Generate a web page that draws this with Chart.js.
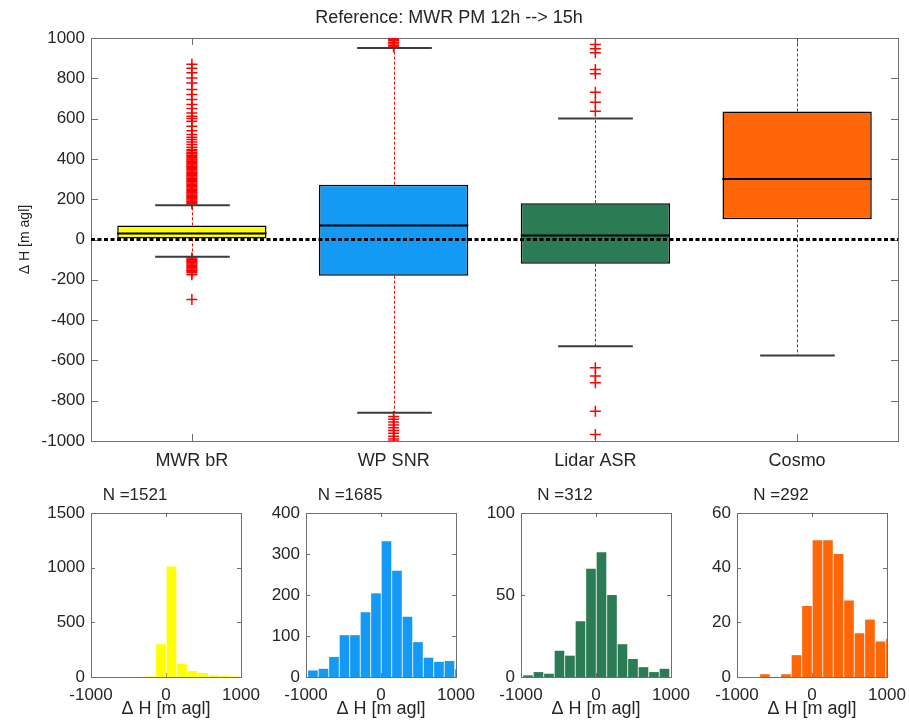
<!DOCTYPE html>
<html><head><meta charset="utf-8">
<script src="https://cdn.jsdelivr.net/npm/chart.js@4.4.1/dist/chart.umd.min.js"></script>
<style>
html,body{margin:0;padding:0;background:#fff;}
#wrap{position:relative;width:909px;height:725px;overflow:hidden;background:#fff;}
canvas{position:absolute;}
</style></head><body>
<div id="wrap">
<canvas id="main" width="909" height="480" style="left:0;top:0"></canvas>
<canvas id="h0" width="234" height="245" style="left:29px;top:480px"></canvas>
<canvas id="h1" width="234" height="245" style="left:244px;top:480px"></canvas>
<canvas id="h2" width="234" height="245" style="left:459px;top:480px"></canvas>
<canvas id="h3" width="234" height="245" style="left:675px;top:480px"></canvas>
</div>
<script>
// ---------- data: box plot ----------
const categories = ['MWR bR', 'WP SNR', 'Lidar ASR', 'Cosmo'];
const boxQ1 = [5, -180, -120, 100];
const boxMedian = [30, 70, 20, 300];
const boxQ3 = [70, 272, 180, 635];
const whiskerLow = [-86, -860, -530, -576];
const whiskerHigh = [170, 950, 600, 1100];
const outliersMWR = [178,184,190,196,202,208,214,220,226,232,238,244,250,256,262,268,274,280,286,292,298,304,310,316,322,328,334,340,346,352,358,364,370,376,382,388,394,400,406,412,418,425,432,440,447,458,471,484,496,508,521,540,562,587,600,612,628,650,670,695,720,744,777,802,827,850,870,
  -92,-98,-104,-110,-116,-122,-128,-134,-140,-146,-152,-158,-165,-175,-298];
const outliersWP = [955,962,970,978,986,994,1000,-878,-892,-906,-920,-934,-948,-962,-976,-990,-1000];
const outliersLidar = [968,947,927,844,822,731,681,637,-637,-678,-711,-852,-968];
const outliersCosmo = [];
const mainYTicks = [-1000,-800,-600,-400,-200,0,200,400,600,800,1000];
const mainTitle = 'Reference: MWR PM 12h --> 15h';
const axisLabel = 'Δ H [m agl]';

// ---------- data: histograms ----------
const binCenters = [-1047,-907,-767,-627,-487,-347,-207,-67,73,213,353,493,633,773,913,1053];
const countsMWR   = [0,0,0,0,0,1,5,300,1010,122,55,37,15,9,5,0];
const countsWP    = [0,16,20,49,102,102,158,204,331,259,147,85,47,37,39,19];
const countsLidar = [0,1,3,2,16,13,34,66,76,50,20,11,6,3,5,0];
const countsCosmo = [0,0,0,1,0,1,8,26,50,50,45,28,16,21,13,14];
const histN = [1521, 1685, 312, 292];
const histXTicks = [-1000, 0, 1000];
const histYTicksMWR = [0, 500, 1000, 1500];
const histYTicksWP = [0, 100, 200, 300, 400];
const histYTicksLidar = [0, 50, 100];
const histYTicksCosmo = [0, 20, 40, 60];

// ---------- styles ----------
const FONT = '"Liberation Sans", Arial, sans-serif';
const TXT = '#262626';
const FRAME = '#707070';
const boxColors = ['#ffff00', '#1499f5', '#2b7b55', '#ff6608'];

function framePlugin(tickLen) {
  return {
    id: 'frame',
    beforeDatasetsDraw(chart) {
      const {ctx, chartArea: a, scales} = chart;
      ctx.save();
      ctx.strokeStyle = FRAME;
      ctx.lineWidth = 1;
      ctx.strokeRect(Math.round(a.left) + 0.5, Math.round(a.top) + 0.5, Math.round(a.right - a.left), Math.round(a.bottom - a.top));
      ctx.beginPath();
      const xs = scales.x, ys = scales.y;
      xs.ticks.forEach((t, i) => {
        const px = Math.round(xs.getPixelForTick(i)) + 0.5;
        ctx.moveTo(px, a.bottom); ctx.lineTo(px, a.bottom - tickLen);
        ctx.moveTo(px, a.top); ctx.lineTo(px, a.top + tickLen);
      });
      ys.ticks.forEach((t, i) => {
        const py = Math.round(ys.getPixelForTick(i)) + 0.5;
        ctx.moveTo(a.left, py); ctx.lineTo(a.left + tickLen, py);
        ctx.moveTo(a.right, py); ctx.lineTo(a.right - tickLen, py);
      });
      ctx.stroke();
      ctx.restore();
    }
  };
}

const boxPlugin = {
  id: 'boxparts',
  afterDatasetsDraw(chart) {
    const {ctx, chartArea: a} = chart;
    const ys = chart.scales.y;
    const meta = chart.getDatasetMeta(0);
    ctx.save();
    ctx.beginPath();
    ctx.rect(a.left, a.top, a.right - a.left, a.bottom - a.top);
    ctx.clip();
    meta.data.forEach((bar, i) => {
      const cx = Math.round(bar.x) + 0.5;
      const hw = bar.width / 2;
      const capHw = bar.width / 4;
      // whiskers
      ctx.strokeStyle = '#ff0000';
      ctx.lineWidth = 1;
      ctx.setLineDash([3, 2]);
      ctx.beginPath();
      ctx.moveTo(cx, ys.getPixelForValue(boxQ3[i])); ctx.lineTo(cx, ys.getPixelForValue(whiskerHigh[i]));
      ctx.moveTo(cx, ys.getPixelForValue(boxQ1[i])); ctx.lineTo(cx, ys.getPixelForValue(whiskerLow[i]));
      ctx.stroke();
      ctx.setLineDash([]);
      // caps
      ctx.strokeStyle = '#3c3c3c';
      ctx.lineWidth = 2;
      ctx.beginPath();
      [whiskerHigh[i], whiskerLow[i]].forEach(v => {
        const py = ys.getPixelForValue(v);
        ctx.moveTo(cx - capHw, py); ctx.lineTo(cx + capHw, py);
      });
      ctx.stroke();
      // median
      ctx.strokeStyle = '#000';
      ctx.lineWidth = 2;
      ctx.beginPath();
      const my = ys.getPixelForValue(boxMedian[i]);
      ctx.moveTo(bar.x - hw, my); ctx.lineTo(bar.x + hw, my);
      ctx.stroke();
    });
    // zero reference line
    const zy = ys.getPixelForValue(0);
    ctx.strokeStyle = '#000';
    ctx.lineWidth = 3;
    ctx.setLineDash([4, 2.5]);
    ctx.beginPath();
    ctx.moveTo(a.left, zy); ctx.lineTo(a.right, zy);
    ctx.stroke();
    ctx.restore();
  }
};

const outlierLists = [outliersMWR, outliersWP, outliersLidar, outliersCosmo];
const outlierPoints = [];
outlierLists.forEach((list, i) => list.forEach(v => outlierPoints.push({x: categories[i], y: v})));

new Chart(document.getElementById('main'), {
  type: 'bar',
  data: {
    labels: categories,
    datasets: [
      {
        type: 'bar',
        data: categories.map((c, i) => [boxQ1[i], boxQ3[i]]),
        backgroundColor: boxColors,
        borderColor: '#000',
        borderWidth: 1.5,
        borderSkipped: false,
        barPercentage: 0.74,
        categoryPercentage: 1
      },
      {
        type: 'scatter',
        data: outlierPoints,
        pointStyle: 'cross',
        pointRadius: 5.5,
        borderColor: '#ff0000',
        backgroundColor: '#ff0000',
        borderWidth: 1.5,
        showLine: false
      }
    ]
  },
  options: {
    responsive: false,
    animation: false,
    events: [],
    layout: {padding: {left: 0, right: 11, top: 0, bottom: 0}, autoPadding: false},
    plugins: {
      legend: {display: false},
      tooltip: {enabled: false},
      title: {display: true, text: mainTitle, color: TXT, font: {family: FONT, size: 18, weight: 'normal'}, padding: {top: 7, bottom: 9.4}}
    },
    scales: {
      x: {
        type: 'category',
        offset: true,
        grid: {display: false, drawTicks: false},
        border: {display: false},
        ticks: {color: TXT, font: {family: FONT, size: 18}, padding: 9, maxRotation: 0},
        afterFit: s => { s.height = 39; s.paddingLeft = 0; s.paddingRight = 0; }
      },
      y: {
        min: -1000, max: 1000,
        afterBuildTicks: s => { s.ticks = mainYTicks.map(v => ({value: v})); },
        grid: {display: false, drawTicks: false},
        border: {display: false},
        ticks: {color: TXT, font: {family: FONT, size: 17}, padding: 6, callback: v => String(v)},
        title: {display: true, text: axisLabel, color: TXT, font: {family: FONT, size: 14}, padding: {top: 17, bottom: 0}},
        afterFit: s => { s.width = 91; s.paddingTop = 0; s.paddingBottom = 0; }
      }
    }
  },
  plugins: [framePlugin(7), boxPlugin]
});

const histCounts = [countsMWR, countsWP, countsLidar, countsCosmo];
const histYTicks = [histYTicksMWR, histYTicksWP, histYTicksLidar, histYTicksCosmo];

histCounts.forEach((counts, k) => {
  const yt = histYTicks[k];
  new Chart(document.getElementById('h' + k), {
    type: 'bar',
    data: {
      datasets: [{
        data: binCenters.map((x, i) => ({x: x, y: counts[i]})),
        backgroundColor: boxColors[k],
        borderWidth: 0,
        barPercentage: 0.92,
        categoryPercentage: 1,
        clip: 0
      }]
    },
    options: {
      responsive: false,
      animation: false,
      events: [],
      layout: {padding: {left: 0, right: 22, top: 0, bottom: 0}, autoPadding: false},
      plugins: {
        legend: {display: false},
        tooltip: {enabled: false},
        title: {display: true, text: 'N =' + histN[k], color: TXT, font: {family: FONT, size: 17, weight: 'normal'}, padding: {top: 5, bottom: 7.6}}
      },
      scales: {
        x: {
          type: 'linear', min: -1000, max: 1000, offset: false,
          afterBuildTicks: s => { s.ticks = histXTicks.map(v => ({value: v})); },
          grid: {display: false, drawTicks: false},
          border: {display: false},
          ticks: {color: TXT, font: {family: FONT, size: 17}, padding: 8, maxRotation: 0, autoSkip: false, callback: v => String(v)},
          title: {display: true, text: axisLabel, color: TXT, font: {family: FONT, size: 18}, padding: {top: 0, bottom: 5}},
          afterFit: s => { s.height = 48; s.paddingLeft = 0; s.paddingRight = 0; }
        },
        y: {
          min: yt[0], max: yt[yt.length - 1],
          afterBuildTicks: s => { s.ticks = yt.map(v => ({value: v})); },
          grid: {display: false, drawTicks: false},
          border: {display: false},
          ticks: {color: TXT, font: {family: FONT, size: 17}, padding: 6, callback: v => String(v)},
          afterFit: s => { s.width = 62; s.paddingTop = 0; s.paddingBottom = 0; }
        }
      }
    },
    plugins: [framePlugin(4)]
  });
});
</script>
</body></html>
